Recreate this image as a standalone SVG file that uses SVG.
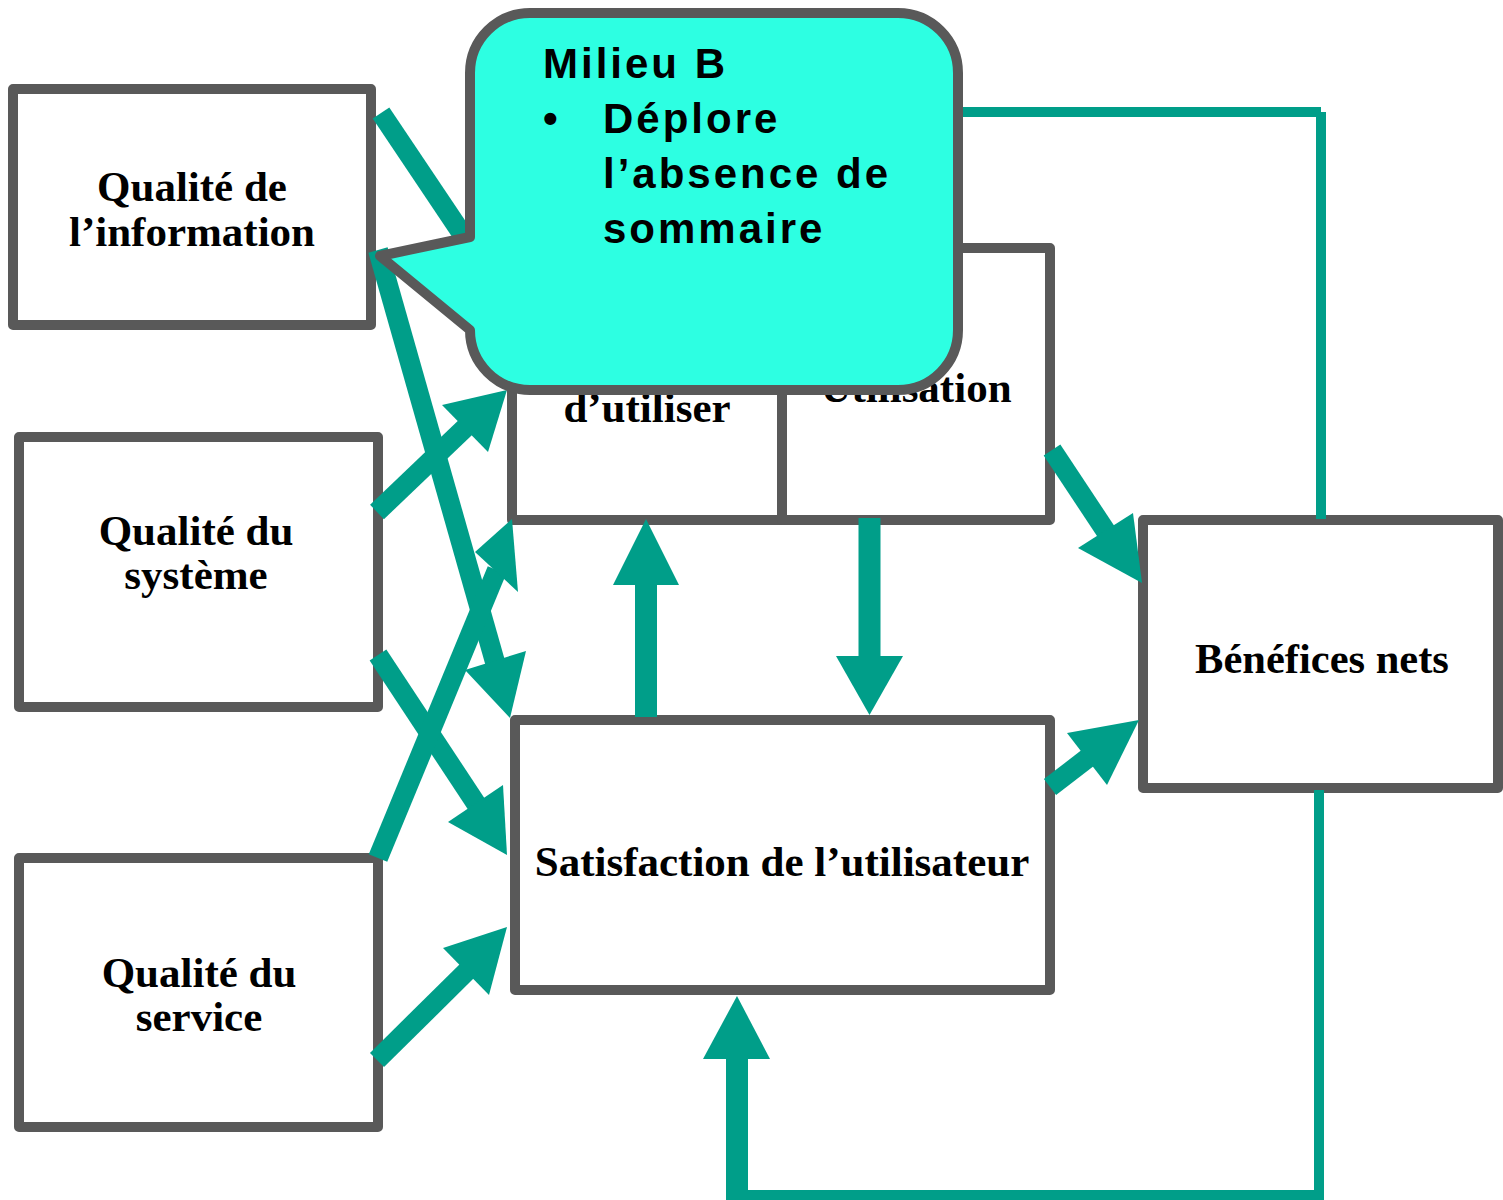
<svg xmlns="http://www.w3.org/2000/svg" width="1503" height="1200" viewBox="0 0 1503 1200">
<style>
.box{fill:#ffffff;stroke:#595959;stroke-width:10;stroke-linejoin:round}
.lbl{font-family:"Liberation Serif","Times New Roman",serif;font-weight:bold;font-size:43px;fill:#000;text-anchor:middle}
.shaft{stroke:#009e89;stroke-width:20;fill:none}
.vshaft{stroke:#009e89;stroke-width:22;fill:none}
.thin{stroke:#009e89;stroke-width:10;fill:none}
.head{fill:#009e89}
.callout{fill:#2dffe2;stroke:#595959;stroke-width:10;stroke-linejoin:round}
.ct{font-family:"Liberation Sans",Arial,sans-serif;font-weight:bold;font-size:42px;letter-spacing:3px;fill:#000}
</style>
<rect width="1503" height="1200" fill="#ffffff"/>
<g id="node-info">
<rect class="box" x="13" y="89" width="358" height="236"/>
<text class="lbl" x="192" y="201">Qualité de</text>
<text class="lbl" x="192" y="246">l’information</text>
</g>
<g id="node-systeme">
<rect class="box" x="19" y="437" width="359" height="270"/>
<text class="lbl" x="196" y="545">Qualité du</text>
<text class="lbl" x="196" y="589">système</text>
</g>
<g id="node-service">
<rect class="box" x="19" y="858" width="359" height="269"/>
<text class="lbl" x="199" y="987">Qualité du</text>
<text class="lbl" x="199" y="1031">service</text>
</g>
<g id="node-intention">
<rect class="box" x="512" y="248" width="270" height="272"/>
<text class="lbl" x="647" y="422">d’utiliser</text>
</g>
<g id="node-utilisation">
<rect class="box" x="782" y="248" width="268" height="272"/>
<text class="lbl" x="916" y="402">Utilisation</text>
</g>
<g id="node-satisfaction">
<rect class="box" x="515" y="720" width="535" height="270"/>
<text class="lbl" x="782" y="876">Satisfaction de l’utilisateur</text>
</g>
<g id="node-benefices">
<rect class="box" x="1143" y="520" width="355" height="268"/>
<text class="lbl" x="1322" y="673" style="font-size:42.5px">Bénéfices nets</text>
</g>
<g id="connectors">
<!-- info -> intention (head hidden by callout) -->
<line class="shaft" x1="381" y1="113" x2="485" y2="268"/>
<!-- info -> satisfaction -->
<line class="shaft" x1="378" y1="250" x2="495" y2="662"/>
<polygon class="head" points="510,718 465,670 526,651"/>
<!-- systeme -> intention -->
<line class="shaft" x1="377" y1="512" x2="467" y2="426"/>
<polygon class="head" points="507,390 442,405 488,452"/>
<!-- systeme -> satisfaction -->
<line class="shaft" x1="378" y1="655" x2="477" y2="805"/>
<polygon class="head" points="507,855 448,822 503,785"/>
<!-- service -> intention -->
<line class="shaft" x1="378" y1="858" x2="497" y2="570"/>
<polygon class="head" points="512,519 475,552 518,592"/>
<!-- service -> satisfaction -->
<line class="shaft" x1="377" y1="1060" x2="468" y2="970"/>
<polygon class="head" points="507,927 443,948 489,995"/>
<!-- utilisation -> benefices -->
<line class="shaft" x1="1052" y1="450" x2="1107" y2="533"/>
<polygon class="head" points="1142,583 1078,548 1133,513"/>
<!-- satisfaction -> benefices -->
<line class="shaft" x1="1050" y1="787" x2="1089" y2="757"/>
<polygon class="head" points="1139,720 1067,733 1107,785"/>
<!-- satisfaction -> intention -->
<line class="vshaft" x1="646" y1="717" x2="646" y2="583"/>
<polygon class="head" points="646,519 613,585 679,585"/>
<!-- utilisation -> satisfaction -->
<line class="vshaft" x1="869.5" y1="518" x2="869.5" y2="658"/>
<polygon class="head" points="836,656 903,656 869.5,715"/>
<!-- benefices -> satisfaction (feedback) -->
<line class="thin" x1="1319" y1="790" x2="1319" y2="1200"/>
<line class="thin" x1="737" y1="1195" x2="1324" y2="1195"/>
<line class="vshaft" x1="737" y1="1200" x2="737" y2="1057"/>
<polygon class="head" points="737,996 703,1059 770,1059"/>
<!-- benefices -> intention/utilisation (feedback, top) -->
<line class="thin" x1="940" y1="112" x2="1321" y2="112"/>
<line class="thin" x1="1321" y1="112" x2="1321" y2="519"/>
</g>
<g id="callout">
<path class="callout" d="M530,13 H898 A60,60 0 0 1 958,73 V330 A60,60 0 0 1 898,390 H530 A60,60 0 0 1 470,330 L380,256 L470,237 V73 A60,60 0 0 1 530,13 Z"/>
<text class="ct" x="543" y="78">Milieu B</text>
<text class="ct" x="543" y="133">•</text>
<text class="ct" x="603" y="133">Déplore</text>
<text class="ct" x="603" y="188">l’absence de</text>
<text class="ct" x="603" y="243">sommaire</text>
</g>
</svg>
